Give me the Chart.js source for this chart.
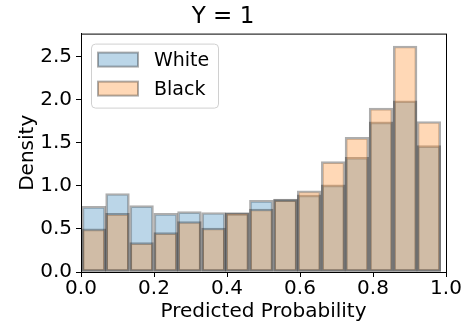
<!DOCTYPE html>
<html>
<head>
<meta charset="utf-8">
<script src="https://cdn.jsdelivr.net/npm/chart.js@4"></script>
<style>
  html, body { margin: 0; padding: 0; background: #fff; }
</style>
</head>
<body>
<canvas id="hist" width="464" height="322"></canvas>
<script>
// ── DATA ─────────────────────────────────────────────────────────────
// 15 histogram bins (centres), density per group
const binCenters = [0.035, 0.100, 0.166, 0.232, 0.297, 0.363, 0.428, 0.494,
                    0.560, 0.625, 0.691, 0.756, 0.822, 0.888, 0.953]
const whiteDensity = [0.76, 0.91, 0.77, 0.68, 0.70, 0.69, 0.68, 0.83,
                      0.845, 0.895, 1.01, 1.33, 1.74, 1.985, 1.465]
const blackDensity = [0.50, 0.68, 0.34, 0.457, 0.585, 0.51, 0.69, 0.73,
                      0.84, 0.94, 1.28, 1.56, 1.90, 2.62, 1.745]
const xTicks = [0.0, 0.2, 0.4, 0.6, 0.8, 1.0]
const yTicks = [0.0, 0.5, 1.0, 1.5, 2.0, 2.5]
const seriesNames = ["White", "Black"]

const FONT = "'DejaVu Sans', sans-serif"
const BLUE = "rgba(31,119,180,0.3)"
const ORANGE = "rgba(255,127,14,0.3)"
const EDGE = "rgba(0,0,0,0.32)"

const pts = vals => vals.map((v, i) => ({ x: binCenters[i], y: v }))

// frame on all four sides + legend box (matplotlib style)
const framePlugin = {
  id: "frame",
  afterDatasetsDraw(chart) {
    const { ctx, chartArea: a } = chart
    ctx.save()
    ctx.strokeStyle = "#000"
    ctx.lineWidth = 1
    ctx.strokeRect(a.left + 0.5, a.top + 0.5, a.right - a.left, a.bottom - a.top)

    // legend
    const lx = a.left + 10, ly = a.top + 10, lw = 127, lh = 64
    ctx.beginPath()
    ctx.roundRect(lx + 0.5, ly + 0.5, lw, lh, 4)
    ctx.fillStyle = "rgba(255,255,255,0.8)"
    ctx.fill()
    ctx.strokeStyle = "#d0d0d0"
    ctx.stroke()
    const fills = [BLUE, ORANGE]
    seriesNames.forEach((name, i) => {
      const y = ly + 9 + i * 29
      ctx.fillStyle = fills[i]
      ctx.fillRect(lx + 7, y, 40, 14)
      ctx.strokeStyle = EDGE
      ctx.lineWidth = 2
      ctx.strokeRect(lx + 7, y, 40, 14)
      ctx.fillStyle = "#000"
      ctx.font = "19px " + FONT
      ctx.textBaseline = "middle"
      ctx.fillText(name, lx + 63, y + 8)
    })
    ctx.restore()
  }
}

new Chart(document.getElementById("hist"), {
  type: "bar",
  data: {
    datasets: [
      { label: seriesNames[0], data: pts(whiteDensity), backgroundColor: BLUE,
        borderColor: EDGE, borderWidth: 2, borderSkipped: false, order: 1 },
      { label: seriesNames[1], data: pts(blackDensity), backgroundColor: ORANGE,
        borderColor: EDGE, borderWidth: 2, borderSkipped: false, order: 0 }
    ]
  },
  options: {
    responsive: false,
    animation: false,
    devicePixelRatio: 1,
    layout: { padding: { left: 0, right: 18, top: 0, bottom: 0 } },
    datasets: { bar: { grouped: false, barPercentage: 1, categoryPercentage: 1 } },
    plugins: {
      legend: { display: false },
      tooltip: { enabled: false },
      title: {
        display: true, text: "Y = 1", color: "#000",
        font: { family: FONT, size: 23, weight: "normal", lineHeight: 1.2 },
        padding: { top: 3, bottom: 3 }
      }
    },
    scales: {
      x: {
        type: "linear", min: 0, max: 1, offset: false,
        afterBuildTicks: s => { s.ticks = xTicks.map(v => ({ value: v })) },
        afterFit: s => { s.height = 50 },
        ticks: { color: "#000", font: { family: FONT, size: 20 }, padding: 0,
                 maxRotation: 0, callback: v => v.toFixed(1) },
        grid: { offset: false, drawOnChartArea: false, drawTicks: true, tickLength: 5, tickColor: "#000" },
        border: { color: "#000", width: 1 },
        title: { display: true, text: "Predicted Probability", color: "#000",
                 font: { family: FONT, size: 20, lineHeight: 1 }, padding: { top: 0, bottom: 0 } }
      },
      y: {
        type: "linear", min: 0, max: 2.764,
        afterBuildTicks: s => { s.ticks = yTicks.map(v => ({ value: v })) },
        afterFit: s => { s.width = 81 },
        ticks: { color: "#000", font: { family: FONT, size: 20 }, padding: 4,
                 callback: v => v.toFixed(1) },
        grid: { offset: false, drawOnChartArea: false, drawTicks: true, tickLength: 5, tickColor: "#000" },
        border: { color: "#000", width: 1 },
        title: { display: true, text: "Density", color: "#000",
                 font: { family: FONT, size: 20, lineHeight: 1.2 }, padding: { top: 16, bottom: 0 } }
      }
    }
  },
  plugins: [framePlugin]
})
</script>
</body>
</html>
